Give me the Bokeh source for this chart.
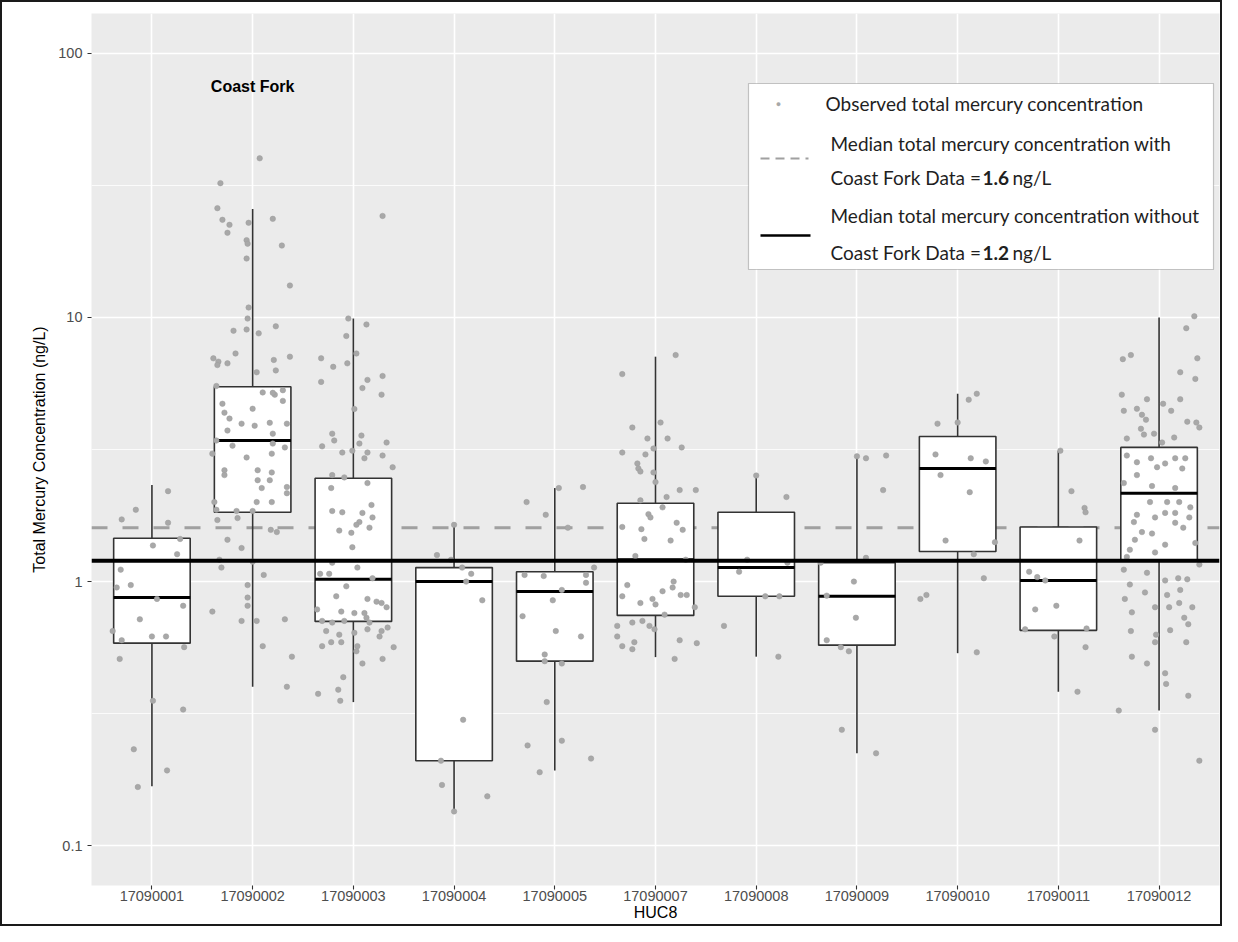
from bokeh.plotting import figure
from bokeh.models import (Range1d, FixedTicker, CustomJSTickFormatter, Span, Label,
                          BoxAnnotation, Arrow, ColumnDataSource, InlineStyleSheet)
from bokeh.embed import file_html
from bokeh.resources import INLINE

# ---------------- data ----------------
huc8 = ["17090001", "17090002", "17090003", "17090004", "17090005", "17090007",
        "17090008", "17090009", "17090010", "17090011", "17090012"]

whisker_low = [0.168, 0.40, 0.35, 0.135, 0.193, 0.518, 0.52, 0.224, 0.536, 0.383, 0.325]
q1 = [0.585, 1.83, 0.707, 0.21, 0.50, 0.745, 0.88, 0.575, 1.30, 0.654, 1.21]
median = [0.87, 3.42, 1.02, 1.0, 0.917, 1.21, 1.13, 0.88, 2.68, 1.01, 2.16]
q3 = [1.46, 5.46, 2.46, 1.13, 1.09, 1.98, 1.83, 1.18, 3.54, 1.61, 3.22]
whisker_high = [2.32, 25.7, 9.9, 1.64, 2.26, 7.1, 2.52, 2.98, 5.14, 3.13, 10.0]

median_with_coast_fork = 1.6
median_without_coast_fork = 1.2

# observed concentrations (ng/L) with horizontal jitter offset, per HUC8
pts_17090001 = [(2.20, 0.16), (1.87, -0.16), (1.72, -0.30), (1.67, 0.16), (1.37, 0.01),
                (1.27, 0.25), (1.45, 0.28), (1.11, -0.31), (0.97, -0.21), (0.95, -0.35),
                (0.86, 0.05), (0.81, 0.31), (0.72, -0.12), (0.65, -0.39), (0.62, 0.0),
                (0.62, 0.14), (0.60, -0.30), (0.565, 0.32), (0.51, -0.32), (0.354, 0.01),
                (0.328, 0.31), (0.232, -0.18), (0.193, 0.15), (0.167, -0.14)]
pts_17090002 = [(40.0, 0.07), (32.2, -0.32), (25.9, -0.35), (23.4, -0.30), (22.4, -0.23),
                (20.9, -0.25), (22.8, -0.04), (23.6, 0.20), (19.6, -0.06), (19.0, -0.05),
                (18.7, 0.29), (16.7, -0.06), (13.2, 0.37), (10.9, -0.04), (9.9, -0.05),
                (8.9, -0.19), (9.0, -0.06), (8.7, 0.06), (9.25, 0.23), (7.3, -0.17),
                (7.0, -0.39), (6.8, -0.34), (6.7, -0.25), (6.6, -0.35), (6.9, 0.21),
                (7.1, 0.37), (6.3, 0.23), (6.2, 0.04), (5.5, -0.36), (5.2, 0.10),
                (5.1, 0.22), (5.3, 0.30),
                (4.71, -0.30), (4.51, 0.0), (5.18, 0.20), (4.83, 0.30), (4.36, -0.28),
                (4.14, -0.23), (3.96, -0.11), (3.89, 0.02), (3.99, 0.17), (3.96, 0.34),
                (3.73, -0.25), (3.63, 0.20), (3.42, -0.36), (3.27, -0.20), (3.33, 0.20),
                (3.22, 0.32), (3.05, -0.40), (2.95, -0.06), (3.05, 0.19), (2.64, -0.28),
                (2.53, -0.28), (2.64, 0.05), (2.59, 0.19), (2.42, 0.05), (2.42, 0.17),
                (2.26, 0.09), (2.28, 0.34), (2.16, 0.34), (2.0, -0.38), (2.0, 0.04),
                (2.0, 0.19), (1.87, -0.36), (1.85, -0.16), (1.85, 0.0),
                (1.71, -0.35), (1.74, -0.15), (1.57, 0.18), (1.54, 0.24), (1.44, -0.25),
                (1.34, -0.11), (1.21, -0.33), (1.19, 0.0), (1.13, -0.31), (1.06, 0.11),
                (0.97, -0.05), (0.87, -0.05), (0.81, -0.05), (0.77, -0.40), (0.71, 0.04),
                (0.71, -0.11), (0.72, 0.32), (0.57, 0.10), (0.52, 0.39), (0.40, 0.34)]
pts_17090003 = [(24.2, 0.29), (9.9, -0.05), (9.4, 0.13), (8.5, -0.07), (7.3, 0.03),
                (7.0, -0.32), (6.5, -0.20), (6.7, -0.06), (5.7, -0.32), (5.8, 0.14),
                (6.0, 0.29), (5.4, 0.09), (5.1, 0.28), (4.5, 0.01), (3.63, -0.21),
                (3.57, 0.08), (3.42, -0.19), (3.36, 0.33), (3.25, -0.31), (3.33, 0.06),
                (3.13, -0.01), (3.08, -0.11), (3.08, 0.14), (3.0, 0.29), (2.93, 0.11),
                (2.71, 0.39), (2.53, -0.21), (2.48, -0.09), (2.26, -0.22), (2.36, 0.14),
                (1.85, -0.21), (1.83, -0.11), (1.95, 0.18), (1.82, 0.09), (1.75, 0.19),
                (1.68, 0.06), (1.64, 0.03), (1.60, 0.16), (1.56, -0.14), (1.53, -0.02),
                (1.35, -0.01), (1.18, -0.21), (1.13, 0.04), (1.07, -0.33), (1.07, -0.24),
                (1.03, 0.19), (0.96, -0.07), (0.88, -0.17), (0.86, 0.14), (0.84, 0.23),
                (0.83, 0.28), (0.80, 0.33), (0.785, -0.36), (0.77, -0.12), (0.76, 0.01),
                (0.76, 0.11), (0.73, 0.13), (0.71, -0.31), (0.70, -0.21), (0.71, -0.09),
                (0.70, 0.16), (0.65, -0.27), (0.63, -0.14), (0.64, 0.01), (0.66, 0.14),
                (0.65, 0.28), (0.67, 0.34), (0.59, -0.22), (0.57, -0.31), (0.59, -0.12),
                (0.57, 0.04), (0.62, 0.26), (0.565, 0.40), (0.545, 0.03), (0.51, 0.29),
                (0.49, 0.09), (0.435, -0.10), (0.39, -0.15), (0.376, -0.35), (0.354, -0.13)]
pts_17090004 = [(1.64, 0.0), (1.26, -0.17), (1.21, -0.03), (1.13, 0.08), (1.07, 0.17),
                (1.0, 0.12), (0.85, 0.28), (0.30, 0.09), (0.21, -0.13), (0.17, -0.12),
                (0.154, 0.33), (0.135, 0.0)]
pts_17090005 = [(2.0, -0.28), (2.28, 0.28), (2.26, 0.04), (1.79, -0.09), (1.6, 0.13),
                (1.06, -0.30), (1.05, -0.11), (1.06, 0.31), (1.13, 0.39), (0.99, 0.31),
                (0.93, 0.07), (0.85, -0.02), (0.74, -0.32), (0.65, 0.01), (0.62, 0.26),
                (0.53, -0.10), (0.50, -0.10), (0.49, 0.07), (0.35, -0.08), (0.24, -0.27),
                (0.25, 0.07), (0.19, -0.15), (0.214, 0.36)]
pts_17090007 = [(7.2, 0.20), (6.1, -0.33), (4.0, 0.05), (3.83, -0.23), (3.48, -0.08),
                (3.48, 0.12), (3.22, 0.26), (3.08, -0.33), (3.03, -0.10), (3.19, -0.02),
                (2.80, -0.18), (2.68, -0.17), (2.61, -0.15), (2.59, -0.02), (2.38, 0.0),
                (2.22, 0.24), (2.22, 0.40), (2.09, 0.11), (2.03, -0.15), (1.91, 0.07),
                (1.80, -0.07), (1.75, -0.05), (1.67, 0.21), (1.61, -0.33), (1.58, -0.14),
                (1.57, 0.27), (1.45, -0.11), (1.43, 0.15), (1.25, -0.20), (1.21, 0.30),
                (0.97, -0.28), (1.0, 0.18), (0.95, 0.17), (0.92, 0.07), (0.88, -0.33),
                (0.83, -0.15), (0.86, -0.03), (0.82, 0.0), (0.89, 0.25), (0.89, 0.31),
                (0.80, 0.39), (0.75, 0.09), (0.68, -0.38), (0.70, -0.23), (0.71, -0.13),
                (0.68, -0.06), (0.66, -0.01), (0.62, -0.38), (0.59, -0.21), (0.57, -0.33),
                (0.555, -0.23), (0.60, 0.24), (0.585, 0.41), (0.51, 0.19)]
pts_17090008 = [(2.52, 0.0), (2.09, 0.30), (1.21, -0.09), (1.18, 0.31), (1.09, -0.17),
                (0.88, 0.09), (0.88, 0.23), (0.68, -0.32), (0.52, 0.22)]
pts_17090009 = [(2.98, 0.0), (2.93, 0.09), (3.0, 0.29), (2.22, 0.26), (1.23, 0.09),
                (1.18, -0.36), (1.0, -0.03), (0.885, -0.30), (0.73, -0.01), (0.60, -0.30),
                (0.565, -0.16), (0.545, -0.08), (0.275, -0.15), (0.224, 0.19)]
pts_17090010 = [(4.88, 0.11), (5.14, 0.19), (3.96, -0.20), (4.0, 0.0), (3.03, -0.22),
                (2.93, 0.13), (2.85, 0.28), (2.53, -0.17), (2.18, 0.12), (1.43, -0.12),
                (1.41, 0.37), (1.27, 0.16), (1.03, 0.26), (0.86, -0.37), (0.89, -0.31),
                (0.54, 0.19)]
pts_17090011 = [(3.13, 0.02), (2.20, 0.13), (1.90, 0.26), (1.83, 0.27), (1.43, 0.21),
                (1.09, -0.29), (1.04, -0.21), (1.01, -0.13), (0.785, -0.23), (0.81, -0.02),
                (0.66, -0.33), (0.665, 0.28), (0.62, -0.04), (0.565, 0.27), (0.383, 0.19)]
pts_17090012 = [(10.1, 0.35), (9.1, 0.27), (7.2, -0.28), (6.95, -0.36), (7.0, 0.38),
                (6.2, 0.21), (5.85, 0.36), (5.1, -0.37), (4.9, -0.12), (4.9, 0.21),
                (4.43, -0.35), (4.51, -0.22), (4.71, 0.04), (4.43, 0.12), (4.28, -0.17),
                (4.10, -0.13), (4.03, 0.28), (4.0, 0.37), (3.83, 0.40), (3.79, -0.18),
                (3.6, -0.15), (3.63, -0.05), (3.48, -0.32), (3.51, 0.15), (3.36, 0.03),
                (3.0, -0.32), (2.83, -0.22), (2.93, -0.08), (2.71, -0.02), (2.8, 0.06),
                (2.93, 0.16), (2.93, 0.26), (2.68, 0.23), (2.53, -0.22), (2.36, -0.35),
                (2.30, -0.07), (2.26, 0.16), (2.0, -0.09), (2.0, 0.08), (2.0, 0.20),
                (1.91, 0.31), (1.79, -0.22), (1.75, -0.04), (1.82, 0.06), (1.82, 0.16),
                (1.75, 0.30), (1.68, -0.25), (1.67, 0.16), (1.54, -0.17), (1.52, -0.07),
                (1.6, 0.24), (1.44, -0.24), (1.38, 0.06), (1.32, -0.29), (1.29, -0.04),
                (1.40, 0.36), (1.24, -0.32),
                (1.11, -0.35), (1.08, -0.12), (1.16, 0.40), (0.975, -0.29), (0.91, -0.14),
                (1.01, 0.06), (1.03, 0.19), (1.02, 0.28), (0.93, 0.21), (0.86, -0.34),
                (0.89, 0.08), (0.765, -0.27), (0.80, -0.04), (0.80, 0.10), (0.83, 0.20),
                (0.80, 0.33), (0.73, 0.25), (0.69, 0.29), (0.65, -0.28), (0.655, 0.11),
                (0.63, -0.03), (0.59, -0.04), (0.59, 0.27), (0.52, -0.27), (0.49, -0.12),
                (0.45, 0.06), (0.41, 0.07), (0.37, 0.29), (0.325, -0.40), (0.275, -0.04),
                (0.21, 0.40)]

observations = [pts_17090001, pts_17090002, pts_17090003, pts_17090004, pts_17090005,
                pts_17090007, pts_17090008, pts_17090009, pts_17090010, pts_17090011,
                pts_17090012]

# ---------------- figure ----------------
FONT = "Liberation Sans"
Y_LO, Y_HI = 10 ** -1.15, 10 ** 2.15
W, H = 1222, 926
ML, MR, MT, MB = 91, 3, 13, 41

p = figure(width=W, height=H, output_backend="svg", toolbar_location=None,
           y_axis_type="log", x_range=Range1d(0.4, 11.6), y_range=Range1d(Y_LO, Y_HI),
           min_border_left=ML, min_border_right=MR, min_border_top=MT, min_border_bottom=MB)
p.background_fill_color = "#EBEBEB"
p.border_fill_color = "white"
p.outline_line_color = None
# outer black frame of the picture, drawn over the canvas element
p.stylesheets = [InlineStyleSheet(css=(
    ".bk-Canvas { outline: 2px solid #1a1a1a; outline-offset: -2px; }\n"
    ".bk-Canvas::after { content: ''; position: absolute; left: 0; top: 0; "
    "width: 100%; height: 100%; box-sizing: border-box; border: 2px solid #1a1a1a; "
    "pointer-events: none; z-index: 100; }"))]

# grid
p.xgrid.ticker = FixedTicker(ticks=list(range(1, 12)))
p.xgrid.grid_line_color = "white"
p.xgrid.grid_line_width = 1.6
p.ygrid.grid_line_color = "white"
p.ygrid.grid_line_width = 1.6
p.ygrid.minor_grid_line_color = "white"
p.ygrid.minor_grid_line_width = 0.8

# axes
p.xaxis.ticker = FixedTicker(ticks=list(range(1, 12)))
p.xaxis.major_label_overrides = {i + 1: lab for i, lab in enumerate(huc8)}
p.yaxis.ticker = FixedTicker(ticks=[0.1, 1, 10, 100],
                             minor_ticks=[10 ** -0.5, 10 ** 0.5, 10 ** 1.5])
p.yaxis.formatter = CustomJSTickFormatter(code="return tick.toString()")
for ax in (p.xaxis[0], p.yaxis[0]):
    ax.axis_line_color = None
    ax.major_tick_line_color = "#333333"
    ax.major_tick_line_width = 1.1
    ax.major_tick_out = 4
    ax.major_tick_in = 0
    ax.minor_tick_line_color = None
    ax.major_label_text_font = FONT
    ax.major_label_text_font_size = "14.5px"
    ax.major_label_text_color = "#4D4D4D"
    ax.axis_label_text_font = FONT
    ax.axis_label_text_font_size = "16px"
    ax.axis_label_text_font_style = "normal"
    ax.axis_label_text_color = "black"
p.xaxis.axis_label = "HUC8"
p.xaxis.major_label_standoff = 1
p.xaxis.axis_label_standoff = 0
p.yaxis.axis_label = "Total Mercury Concentration (ng/L)"
p.yaxis.major_label_standoff = 5
p.yaxis.axis_label_standoff = 7

# dashed median line (behind boxes)
p.add_layout(Span(location=median_with_coast_fork, dimension="width", line_color="#A0A0A0",
                  line_width=3, line_dash="16 15", level="underlay"))

# boxes
xs = list(range(1, len(huc8) + 1))
BW = 0.38
box_src = ColumnDataSource(dict(
    left=[x - BW for x in xs], right=[x + BW for x in xs], x=xs,
    q1=q1, q3=q3, med=median, lo=whisker_low, hi=whisker_high))
p.segment(x0="x", y0="q3", x1="x", y1="hi", source=box_src, line_color="#333333", line_width=1.6)
p.segment(x0="x", y0="lo", x1="x", y1="q1", source=box_src, line_color="#333333", line_width=1.6)
p.quad(left="left", right="right", bottom="q1", top="q3", source=box_src,
       fill_color="white", line_color="#333333", line_width=1.6)
p.segment(x0="left", y0="med", x1="right", y1="med", source=box_src,
          line_color="black", line_width=3)

# jittered observations
px, py = [], []
for i, grp in enumerate(observations):
    for val, off in grp:
        px.append(i + 1 + off)
        py.append(val)
p.scatter(px, py, size=5.5, fill_color="#A8A8A8", line_color="#9C9C9C", line_width=0.5)

# solid median line
p.add_layout(Span(location=median_without_coast_fork, dimension="width",
                  line_color="black", line_width=4))

# Coast Fork annotation
p.add_layout(Label(x=2, y=75, text="Coast Fork", text_align="center", text_baseline="middle",
                   text_font=FONT, text_font_size="16px", text_font_style="bold",
                   text_color="black"))

# ---------------- legend (positions in canvas pixels) ----------------
X0, X1, Y0, Y1 = float(ML), float(W - MR), float(MT), float(H - MB)


def fx(px_):
    return 0.4 + (px_ - X0) * 11.2 / (X1 - X0)


def fy(py_):
    return 10 ** (2.15 - (py_ - Y0) * 3.3 / (Y1 - Y0))


LFONT = "Lato"
LSIZE = "19px"
LCOL = "#1f1f1f"
p.add_layout(BoxAnnotation(left=fx(748), right=fx(1213), top=fy(83), bottom=fy(269),
                           fill_color="white", fill_alpha=1.0, line_color="#4a4a4a",
                           line_width=1.2, level="annotation"))
p.add_layout(Label(x=fx(778), y=fy(103), text="●", text_align="center", text_baseline="middle",
                   text_font_size="9px", text_color="#A8A8A8"))
p.add_layout(Arrow(end=None, x_start=fx(760), y_start=fy(158), x_end=fx(808), y_end=fy(158),
                   line_color="#A0A0A0", line_width=2, line_dash="9 6"))
p.add_layout(Arrow(end=None, x_start=fx(760), y_start=fy(235), x_end=fx(810), y_end=fy(235),
                   line_color="black", line_width=2.5))


def ltext(x, y, t, bold=False):
    p.add_layout(Label(x=fx(x), y=fy(y), text=t, text_baseline="middle", text_font=LFONT,
                       text_font_size=LSIZE, text_color=LCOL,
                       text_font_style="bold" if bold else "normal"))


ltext(825, 103, "Observed total mercury concentration")
ltext(830, 143, "Median total mercury concentration with")
ltext(830, 177, "Coast Fork Data =")
ltext(982, 177, "1.6", bold=True)
ltext(1012, 177, "ng/L")
ltext(830, 215, "Median total mercury concentration without")
ltext(830, 252, "Coast Fork Data =")
ltext(982, 252, "1.2", bold=True)
ltext(1012, 252, "ng/L")

open("out.html", "w").write(file_html(p, INLINE))
